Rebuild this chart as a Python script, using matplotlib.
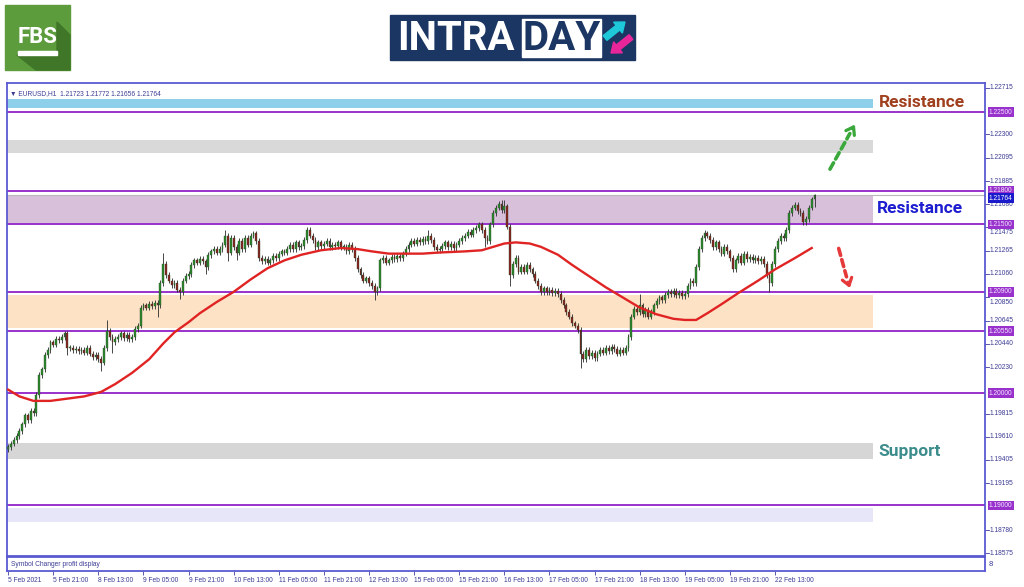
import matplotlib
matplotlib.use("Agg")
import numpy as np
import matplotlib.pyplot as plt
from matplotlib.patches import Rectangle, Polygon, FancyArrow
from matplotlib.transforms import blended_transform_factory

plt.rcParams['font.family'] = ['Liberation Sans', 'DejaVu Sans']

W, H = 1024, 587

# EURUSD H1 closes, one per bar (5 Feb 2021 05:00 -> 23 Feb)
closes = [
    1.1952, 1.1955, 1.1958, 1.1962, 1.1966, 1.1972, 1.1980, 1.1976, 1.1984, 1.1982,
    1.1998, 1.2016, 1.2021, 1.2034, 1.2038, 1.2045, 1.2043, 1.2048, 1.2047, 1.2050,
    1.2053, 1.2040, 1.2040, 1.2038, 1.2039, 1.2037, 1.2038, 1.2036, 1.2040, 1.2035,
    1.2032, 1.2034, 1.2030, 1.2027, 1.2040, 1.2055, 1.2050, 1.2045, 1.2048, 1.2050,
    1.2053, 1.2049, 1.2052, 1.2048, 1.2050, 1.2057, 1.2060, 1.2076, 1.2078, 1.2076,
    1.2079, 1.2077, 1.2080, 1.2078, 1.2098, 1.2115, 1.2105, 1.2100, 1.2096, 1.2098,
    1.2092, 1.2090, 1.2100, 1.2104, 1.2106, 1.2114, 1.2118, 1.2116, 1.2119, 1.2117,
    1.2112, 1.2123, 1.2126, 1.2128, 1.2125, 1.2128, 1.2132, 1.2140, 1.2125, 1.2138,
    1.2130, 1.2125, 1.2135, 1.2128, 1.2138, 1.2132, 1.2140, 1.2142, 1.2135, 1.2120,
    1.2117, 1.2119, 1.2116, 1.2118, 1.2122, 1.2120, 1.2124, 1.2126, 1.2125, 1.2128,
    1.2132, 1.2128, 1.2134, 1.2130, 1.2131, 1.2136, 1.2145, 1.2140, 1.2136, 1.2130,
    1.2134, 1.2131, 1.2133, 1.2135, 1.2130, 1.2132, 1.2131, 1.2134, 1.2130, 1.2130,
    1.2126, 1.2132, 1.2128, 1.2120, 1.2110, 1.2105, 1.2100, 1.2102, 1.2098, 1.2095,
    1.2090, 1.2093, 1.2118, 1.2120, 1.2116, 1.2118, 1.2121, 1.2119, 1.2122, 1.2120,
    1.2124, 1.2128, 1.2132, 1.2135, 1.2133, 1.2136, 1.2134, 1.2137, 1.2135, 1.2140,
    1.2136, 1.2130, 1.2127, 1.2128, 1.2131, 1.2134, 1.2130, 1.2133, 1.2129, 1.2132,
    1.2135, 1.2138, 1.2140, 1.2143, 1.2141, 1.2145, 1.2147, 1.2150, 1.2145, 1.2138,
    1.2135, 1.2150, 1.2160, 1.2165, 1.2168, 1.2163, 1.2166, 1.2148, 1.2105, 1.2115,
    1.2120, 1.2108, 1.2112, 1.2108, 1.2114, 1.2110, 1.2106, 1.2100, 1.2095, 1.2090,
    1.2093, 1.2090, 1.2092, 1.2089, 1.2091, 1.2088, 1.2083, 1.2078, 1.2072, 1.2068,
    1.2062, 1.2060, 1.2056, 1.2035, 1.2030, 1.2038, 1.2033, 1.2036, 1.2031, 1.2035,
    1.2038, 1.2036, 1.2040, 1.2037, 1.2041, 1.2039, 1.2035, 1.2038, 1.2036, 1.2040,
    1.2050, 1.2068, 1.2075, 1.2072, 1.2078, 1.2070, 1.2074, 1.2068, 1.2072, 1.2078,
    1.2082, 1.2085, 1.2083, 1.2087, 1.2090, 1.2088, 1.2091, 1.2087, 1.2089, 1.2086,
    1.2088, 1.2095, 1.2100, 1.2098, 1.2112, 1.2128, 1.2138, 1.2142, 1.2140, 1.2136,
    1.2130, 1.2134, 1.2128, 1.2124, 1.2130, 1.2126, 1.2120, 1.2110, 1.2118, 1.2122,
    1.2116, 1.2124, 1.2119, 1.2121, 1.2118, 1.2120, 1.2117, 1.2119, 1.2115, 1.2105,
    1.2098, 1.2115, 1.2128, 1.2135, 1.2140, 1.2138, 1.2145, 1.2160, 1.2165, 1.2167,
    1.2162, 1.2160, 1.2152, 1.2155, 1.2165, 1.21723, 1.21764,
]
first_open = 1.1950
spike_highs = {20: 1.2055, 35: 1.2065, 55: 1.2125, 77: 1.2145, 106: 1.2148,
               149: 1.2145, 175: 1.2172, 176: 1.2172, 224: 1.2088, 247: 1.2145,
               286: 1.21772}
spike_lows = {21: 1.2034, 33: 1.2020, 37: 1.2036, 53: 1.2068, 61: 1.2084,
              70: 1.2106, 78: 1.2117, 81: 1.2118, 130: 1.2083, 169: 1.2130,
              178: 1.2095, 203: 1.2022, 270: 1.2090, 286: 1.21656}

# moving average at these bars
ma_bars = [0, 4, 9, 15, 21, 27, 33, 38, 44, 50, 55, 59, 64, 68, 74, 80, 86, 92,
           98, 104, 111, 118, 124, 129, 135, 141, 147, 153, 162, 168, 172, 176,
           180, 185, 189, 195, 200, 206, 212, 218, 224, 230, 236, 240, 244, 248,
           253, 259, 266, 272, 279, 285]
ma_values = [1.2003, 1.1997, 1.1993, 1.1993, 1.1995, 1.1997, 1.2001, 1.2008,
             1.2018, 1.2030, 1.2044, 1.2054, 1.2063, 1.2071, 1.2081, 1.2090,
             1.2101, 1.2111, 1.2118, 1.2123, 1.2127, 1.2129, 1.2128, 1.2126,
             1.2124, 1.2124, 1.2124, 1.2125, 1.2126, 1.2127, 1.2130, 1.2133,
             1.2134, 1.2133, 1.2130, 1.2123, 1.2114, 1.2104, 1.2094, 1.2085,
             1.2076, 1.2070, 1.2066, 1.2065, 1.2065, 1.2071, 1.2079, 1.2089,
             1.2100, 1.2110, 1.2120, 1.2129]

levels = [1.22500, 1.21800, 1.21500, 1.20900, 1.20550, 1.20000, 1.19000]
zone_low = [1.22536, 1.22135, 1.21504, 1.20578, 1.19413, 1.18852]
zone_high = [1.22616, 1.22251, 1.21762, 1.20872, 1.19555, 1.18977]
zone_colors = ['#8ecfe9', '#d9d9d9', '#d8c0da', '#fde2c6', '#d6d6d6', '#e6e6f8']

price_ticks = [1.22715, 1.22300, 1.22095, 1.21885, 1.21680, 1.21265,
               1.21060, 1.20645, 1.20440, 1.20230, 1.19815, 1.19610,
               1.19405, 1.19195, 1.18780, 1.18575]
hidden_ticks = [1.21475, 1.20850]  # partly covered by the level boxes
date_labels = ['5 Feb 2021', '5 Feb 21:00', '8 Feb 13:00', '9 Feb 05:00', '9 Feb 21:00',
               '10 Feb 13:00', '11 Feb 05:00', '11 Feb 21:00', '12 Feb 13:00',
               '15 Feb 05:00', '15 Feb 21:00', '16 Feb 13:00', '17 Feb 05:00',
               '17 Feb 21:00', '18 Feb 13:00', '19 Feb 05:00', '19 Feb 21:00',
               '22 Feb 13:00']
bars_per_label = 16

NAVY = '#3c3c96'
FRAME = '#5a5ad2'
LEVEL = '#9932cc'


def px_box(x0, y0, x1, y1):
    return [x0 / W, 1 - y1 / H, (x1 - x0) / W, (y1 - y0) / H]


fig = plt.figure(figsize=(W / 100, H / 100), dpi=100)

# logos (pixel overlay)
deco = fig.add_axes([0, 0, 1, 1])
deco.set_xlim(0, W)
deco.set_ylim(H, 0)
deco.axis('off')
deco.add_patch(Rectangle((5, 5), 65, 65, color='#5c9c3c'))
deco.add_patch(Polygon([(57, 22), (70, 35), (70, 70), (36, 70), (17, 55), (57, 55)],
                       closed=True, color='#3f7628'))
deco.text(37.5, 37, 'FBS', color='white', fontsize=16, fontweight='bold',
          ha='center', va='center', family='Roboto')
deco.add_patch(Rectangle((18, 51), 39, 3.5, color='white'))

deco.add_patch(Rectangle((390, 15), 245, 45, color='#1b3663'))
deco.text(397, 39, 'INTRA', color='white', fontsize=29, fontweight='bold',
          ha='left', va='center', family='Roboto')
deco.add_patch(Rectangle((522, 19), 79, 38, color='white'))
deco.text(561.5, 39, 'DAY', color='#1b3663', fontsize=29, fontweight='bold',
          ha='center', va='center', family='Roboto')
deco.add_patch(FancyArrow(605, 38, 20, -16, width=6, head_width=14, head_length=9,
                          length_includes_head=True, color='#1ec8d8'))
deco.add_patch(FancyArrow(631, 37, -20, 16, width=6, head_width=14, head_length=9,
                          length_includes_head=True, color='#e8269a'))

# price panel
ax = fig.add_axes(px_box(7, 83, 985, 556))
n = len(closes)
idx = np.arange(n)
c = np.array(closes)
o = np.array([first_open] + closes[:-1])
hi = np.maximum(o, c) + 0.00025
lo = np.minimum(o, c) - 0.00025
for k, v in spike_highs.items():
    hi[k] = v
for k, v in spike_lows.items():
    lo[k] = v

x_right = (985 - 8) / 2.82
x_zone = (873 - 8) / 2.82
ax.set_xlim(-0.4, x_right)
ax.set_ylim(1.18550, 1.22758)

for zl, zh, zc in zip(zone_low, zone_high, zone_colors):
    ax.fill_between([-0.4, x_zone], zl, zh, color=zc, lw=0, zorder=1)
for lv in levels:
    ax.axhline(lv, color=LEVEL, lw=1.4, zorder=2)
ax.axhline(closes[-1], color='#b8b8b8', lw=0.8, zorder=2)

up = c >= o
body_lo = np.minimum(o, c)
body_h = np.maximum(np.abs(c - o), 0.00005)
ax.vlines(idx, lo, hi, color='#2a2a2a', lw=0.6, zorder=3)
ax.bar(idx, body_h, bottom=body_lo, width=0.65,
       color=np.where(up, '#2e8b2e', '#8b2222'), edgecolor='#1f3f1f', lw=0.25, zorder=4)
ax.plot(ma_bars, ma_values, color='#e02424', lw=1.7, zorder=5, solid_joinstyle='round')

ax.text(0.003, 0.985, '\u25bc EURUSD,H1  1.21723 1.21772 1.21656 1.21764',
        transform=ax.transAxes, fontsize=4.8, color=NAVY, va='top', ha='left')

ax.text(x_zone + 2, 1.22585, 'Resistance', color='#a0401e', fontsize=12.5,
        fontweight='bold', family='Roboto', va='center', ha='left')
ax.text(x_zone + 1.3, 1.21638, 'Resistance', color='#1c1cd0', fontsize=12.5,
        fontweight='bold', family='Roboto', va='center', ha='left')
ax.text(x_zone + 2, 1.19478, 'Support', color='#3d8c8c', fontsize=12.5,
        fontweight='bold', family='Roboto', va='center', ha='left')

# trend arrows
ax.annotate('', xy=(299.0, 1.2233), xytext=(291.0, 1.2197),
            arrowprops=dict(arrowstyle='-', lw=2.6, ls=(0, (2, 1.2)), color='#3aa83a'))
ax.annotate('', xy=(300.8, 1.2241), xytext=(299.0, 1.2233),
            arrowprops=dict(arrowstyle='->,head_length=0.5,head_width=0.35', lw=2.3,
                            color='#3aa83a'))
ax.annotate('', xy=(297.6, 1.2101), xytext=(294.3, 1.2131),
            arrowprops=dict(arrowstyle='-', lw=2.6, ls=(0, (2, 1.2)), color='#e63a3a'))
ax.annotate('', xy=(298.8, 1.2091), xytext=(297.6, 1.2101),
            arrowprops=dict(arrowstyle='->,head_length=0.5,head_width=0.35', lw=2.3,
                            color='#e63a3a'))

ax.set_xticks([])
ax.set_yticks([])
for s in ax.spines.values():
    s.set_color(FRAME)
    s.set_linewidth(1.3)

# right price scale
tr = blended_transform_factory(ax.transAxes, ax.transData)
for p in price_ticks + hidden_ticks:
    ax.plot([1.0, 1.004], [p, p], color=NAVY, lw=0.6, transform=tr, clip_on=False)
for p in price_ticks:
    ax.text(1.005, p, f'{p:.5f}', transform=tr, fontsize=4.8, color=NAVY,
            va='center', ha='left', clip_on=False, zorder=6)
for p in hidden_ticks:
    ax.text(1.005, p - 0.00012, f'{p:.5f}', transform=tr, fontsize=4.8, color=NAVY,
            va='top', ha='left', clip_on=False, zorder=6)
for lv in levels:
    ax.text(1.004, lv, f'{lv:.5f}', transform=tr, fontsize=4.8, color='#f3e6ff',
            va='center', ha='left', clip_on=False, zorder=7,
            bbox=dict(boxstyle='square,pad=0.2', fc=LEVEL, ec='none'))
ax.text(1.004, closes[-1], f'{closes[-1]:.5f}', transform=tr, fontsize=4.8,
        color='white', va='top', ha='left', clip_on=False, zorder=8,
        bbox=dict(boxstyle='square,pad=0.2', fc='#1a1acc', ec='none'))

# indicator sub-window with time scale
ax2 = fig.add_axes(px_box(7, 557, 985, 571))
ax2.set_xlim(-0.4, x_right)
ax2.set_yticks([])
ax2.text(0.004, 0.5, 'Symbol Changer profit display', transform=ax2.transAxes,
         fontsize=4.8, color=NAVY, va='center', ha='left')
ax2.text(1.004, 0.5, '8', transform=ax2.transAxes, fontsize=5.5, color=NAVY,
         va='center', ha='left')
ax2.set_xticks(np.arange(len(date_labels)) * bars_per_label)
ax2.set_xticklabels(date_labels, fontsize=4.8, color=NAVY)
for lab in ax2.get_xticklabels():
    lab.set_ha('left')
ax2.tick_params(axis='x', length=3, width=0.6, color=NAVY, pad=1.0)
for s in ax2.spines.values():
    s.set_color(FRAME)
    s.set_linewidth(1.3)

fig.savefig('out.png', dpi=100, facecolor='white')
